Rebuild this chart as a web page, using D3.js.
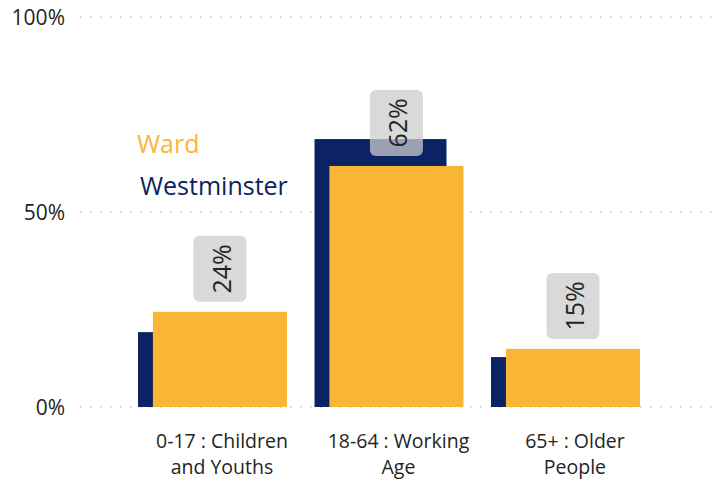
<!DOCTYPE html>
<html>
<head>
<meta charset="utf-8">
<script src="https://cdn.jsdelivr.net/npm/d3@7"></script>
<style>
  html, body { margin: 0; padding: 0; background: #ffffff; }
  svg { display: block; font-family: "Segoe UI", "Open Sans", sans-serif; }
</style>
</head>
<body>
<svg id="chart" width="716" height="482"></svg>
<script>
const categories = ["0-17 : Children and Youths", "18-64 : Working Age", "65+ : Older People"];
const categoryLines = [["0-17 : Children", "and Youths"], ["18-64 : Working", "Age"], ["65+ : Older", "People"]];
const wardValues = [24.4, 61.8, 14.9];
const westminsterValues = [19.2, 68.7, 12.8];
const wardLabels = ["24%", "62%", "15%"];
const yTicks = [0, 50, 100];
const yTickLabels = ["0%", "50%", "100%"];
const seriesNames = ["Ward", "Westminster"];
const colors = { ward: "#f9b634", westminster: "#0b2265" };

const svg = d3.select("#chart");

const y = d3.scaleLinear().domain([0, 100]).range([407, 17]);
const x = d3.scaleBand().domain(categories).range([138, 640]).paddingInner(0.156).paddingOuter(0);
const bw = x.bandwidth();

// Gridlines
svg.append("g").selectAll("line").data(yTicks).join("line")
  .attr("x1", 80).attr("x2", 716)
  .attr("y1", d => y(d)).attr("y2", d => y(d))
  .attr("stroke", "#c8c6c4").attr("stroke-width", 1.5)
  .attr("stroke-dasharray", "1.5,8.5");

// Y tick labels
svg.append("g").selectAll("text").data(yTicks).join("text")
  .attr("x", 65).attr("y", d => y(d) + 7.5)
  .attr("text-anchor", "end")
  .attr("font-size", 21).attr("fill", "#252423")
  .text((d, i) => yTickLabels[i]);

// Westminster bars (behind)
svg.append("g").selectAll("rect").data(categories).join("rect")
  .attr("x", d => x(d))
  .attr("width", bw * 0.886)
  .attr("y", (d, i) => y(westminsterValues[i]))
  .attr("height", (d, i) => y(0) - y(westminsterValues[i]))
  .attr("fill", colors.westminster);

// Ward bars (front)
svg.append("g").selectAll("rect").data(categories).join("rect")
  .attr("x", d => x(d) + bw * 0.1)
  .attr("width", bw * 0.9)
  .attr("y", (d, i) => y(wardValues[i]))
  .attr("height", (d, i) => y(0) - y(wardValues[i]))
  .attr("fill", colors.ward);

// Data labels
const lab = svg.append("g").selectAll("g").data(categories).join("g")
  .attr("transform", (d, i) => `translate(${x(d) + bw * 0.1 + bw * 0.45},${y(wardValues[i]) - 10})`);
lab.append("rect")
  .attr("x", -26.5).attr("y", -66).attr("width", 53).attr("height", 66)
  .attr("rx", 6).attr("ry", 6)
  .attr("fill", "rgba(204,204,204,0.75)");
lab.append("text")
  .attr("transform", "translate(2,-33) rotate(-90)")
  .attr("text-anchor", "middle").attr("dy", "0.35em")
  .attr("font-size", 25).attr("fill", "#252423")
  .text((d, i) => wardLabels[i]);

// Category labels
const cat = svg.append("g").selectAll("text").data(categories).join("text")
  .attr("x", d => x(d) + bw * 0.55 + 2)
  .attr("y", 448)
  .attr("text-anchor", "middle")
  .attr("font-size", 19.5).attr("fill", "#252423");
cat.selectAll("tspan").data((d, i) => categoryLines[i]).join("tspan")
  .attr("x", function () { return d3.select(this.parentNode).attr("x"); })
  .attr("dy", (d, j) => j === 0 ? 0 : 26)
  .text(d => d);

// Legend
svg.append("text").attr("x", 137).attr("y", 153)
  .attr("font-size", 25).attr("fill", colors.ward).text(seriesNames[0]);
svg.append("text").attr("x", 140).attr("y", 195)
  .attr("font-size", 25).attr("fill", colors.westminster).text(seriesNames[1]);
</script>
</body>
</html>
